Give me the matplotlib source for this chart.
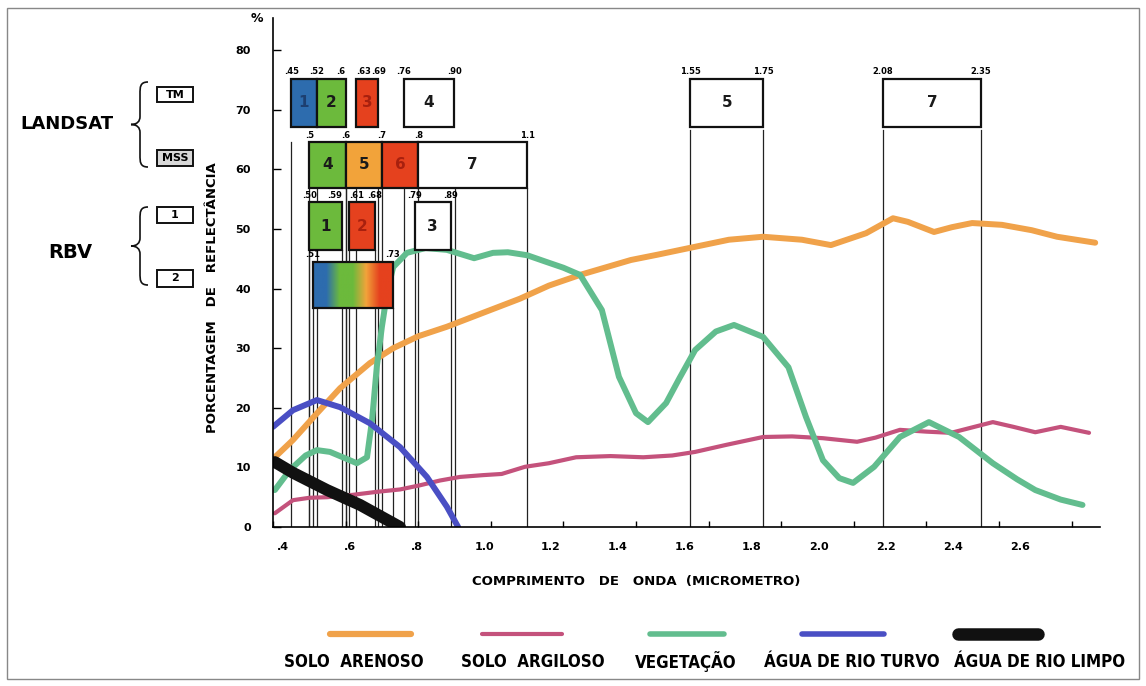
import numpy as np
import matplotlib
matplotlib.use('Agg')
import matplotlib.pyplot as plt
from matplotlib.patches import Rectangle, PathPatch
from matplotlib.path import Path
from matplotlib.lines import Line2D
from matplotlib.colors import LinearSegmentedColormap

# --- reflectance curves (wavelength um, reflectance %) ---
arenoso_x = [0.405, 0.455, 0.52, 0.585, 0.667, 0.731, 0.80, 0.879, 0.96, 1.08, 1.16, 1.246,
             1.386, 1.46, 1.546, 1.656, 1.75, 1.857, 1.937, 2.034, 2.108, 2.149, 2.221,
             2.27, 2.326, 2.408, 2.49, 2.56, 2.665]
arenoso_y = [11.7, 14.6, 19.0, 23.3, 27.5, 30.0, 32.0, 33.6, 35.5, 38.3, 40.5, 42.3,
             44.8, 45.7, 46.8, 48.2, 48.7, 48.2, 47.3, 49.3, 51.8, 51.2, 49.5,
             50.3, 51.0, 50.7, 49.8, 48.7, 47.7]

argiloso_x = [0.405, 0.455, 0.50, 0.549, 0.62, 0.686, 0.75, 0.805, 0.86, 0.915, 0.978, 1.03,
              1.094, 1.16, 1.235, 1.33, 1.42, 1.50, 1.563, 1.65, 1.75, 1.83, 1.915, 2.009,
              2.06, 2.127, 2.20, 2.268, 2.383, 2.44, 2.50, 2.57, 2.648]
argiloso_y = [2.3, 4.5, 4.9, 5.0, 5.4, 5.9, 6.3, 7.0, 7.8, 8.4, 8.7, 8.9,
              10.1, 10.7, 11.7, 11.9, 11.7, 12.0, 12.6, 13.8, 15.1, 15.2, 14.9, 14.3,
              15.0, 16.3, 16.0, 15.8, 17.6, 16.8, 15.9, 16.8, 15.8]

veg_x = [0.405, 0.447, 0.49, 0.521, 0.557, 0.60, 0.631, 0.659, 0.673, 0.686, 0.70, 0.715,
         0.731, 0.769, 0.82, 0.879, 0.954, 1.006, 1.047, 1.10, 1.152, 1.20, 1.246, 1.306,
         1.353, 1.40, 1.433, 1.483, 1.52, 1.563, 1.62, 1.67, 1.75, 1.82, 1.868, 1.915,
         1.96, 1.998, 2.056, 2.127, 2.207, 2.29, 2.383, 2.45, 2.50, 2.57, 2.63]
veg_y = [6.2, 9.6, 12.0, 12.9, 12.6, 11.5, 10.7, 11.7, 18.0, 26.9, 33.6, 39.5,
         43.6, 46.0, 46.8, 46.5, 45.1, 46.0, 46.1, 45.6, 44.5, 43.5, 42.3, 36.4,
         25.2, 19.1, 17.6, 20.8, 25.0, 29.7, 32.8, 33.9, 31.9, 26.8, 18.5, 11.2,
         8.2, 7.4, 10.1, 15.1, 17.6, 15.1, 10.7, 8.0, 6.2, 4.6, 3.7]

turvo_x = [0.40, 0.455, 0.521, 0.585, 0.667, 0.75, 0.824, 0.879, 0.91]
turvo_y = [16.8, 19.6, 21.3, 20.1, 17.4, 13.4, 8.4, 3.4, 0.0]

limpo_x = [0.405, 0.455, 0.549, 0.64, 0.75]
limpo_y = [10.9, 9.1, 6.2, 3.7, 0.0]

legend_names = ['SOLO  ARENOSO', 'SOLO  ARGILOSO', 'VEGETAÇÃO',
                'ÁGUA DE RIO TURVO', 'ÁGUA DE RIO LIMPO']

# --- sensor bands ---
tm_names = ['1', '2', '3', '4', '5', '7']
tm_lo = [0.45, 0.52, 0.63, 0.76, 1.55, 2.08]
tm_hi = [0.52, 0.60, 0.69, 0.90, 1.75, 2.35]
tm_edges = [0.45, 0.52, 0.60, 0.63, 0.69, 0.76, 0.90, 1.55, 1.75, 2.08, 2.35]
tm_edge_txt = ['.45', '.52', '.6', '.63', '.69', '.76', '.90', '1.55', '1.75', '2.08', '2.35']

mss_names = ['4', '5', '6', '7']
mss_lo = [0.5, 0.6, 0.7, 0.8]
mss_hi = [0.6, 0.7, 0.8, 1.1]
mss_edges = [0.5, 0.6, 0.7, 0.8, 1.1]
mss_edge_txt = ['.5', '.6', '.7', '.8', '1.1']

rbv1_names = ['1', '2', '3']
rbv1_lo = [0.50, 0.61, 0.79]
rbv1_hi = [0.59, 0.68, 0.89]
rbv1_edges = [0.50, 0.59, 0.61, 0.68, 0.79, 0.89]
rbv1_edge_txt = ['.50', '.59', '.61', '.68', '.79', '.89']

rbv2_lo, rbv2_hi = 0.51, 0.73
rbv2_edges = [0.51, 0.73]
rbv2_edge_txt = ['.51', '.73']

x_ticks = [0.4, 0.6, 0.8, 1.0, 1.2, 1.4, 1.6, 1.8, 2.0, 2.2, 2.4, 2.6]
x_ticklabels = ['.4', '.6', '.8', '1.0', '1.2', '1.4', '1.6', '1.8', '2.0', '2.2', '2.4', '2.6']
y_ticks = [0, 10, 20, 30, 40, 50, 60, 70, 80]

BLUE, GREEN, ORANGE, RED = '#2d6cae', '#6cba3c', '#f2a33a', '#e5411e'
C_AREN, C_ARG, C_VEG, C_TUR, C_LIM = '#f0a24a', '#c4527c', '#62bd8e', '#4a4fc4', '#111111'

W, H = 1146, 686
def fx(px):
    return px / W
def fy(py):
    return 1 - py / H

BOLD = dict(fontweight='bold', family=['DejaVu Sans'])
NARROW = dict(fontweight='bold', family=['DejaVu Sans'], fontstretch='condensed')

fig = plt.figure(figsize=(W / 100, H / 100), dpi=100)
fig.patch.set_facecolor('white')
ax = fig.add_axes([fx(273), fy(527), (1100 - 273) / W, (527 - 18) / H])

# curves
ax.plot(arenoso_x, arenoso_y, color=C_AREN, lw=4.3, solid_capstyle='round', zorder=2)
ax.plot(argiloso_x, argiloso_y, color=C_ARG, lw=3.0, solid_capstyle='round', zorder=2)
ax.plot(veg_x, veg_y, color=C_VEG, lw=4.3, solid_capstyle='round', zorder=2)
ax.plot(turvo_x, turvo_y, color=C_TUR, lw=4.3, solid_capstyle='round', zorder=2)
ax.plot(limpo_x, limpo_y, color=C_LIM, lw=8.5, solid_capstyle='round', zorder=2)

def num_color(c):
    if c == BLUE:
        return '#1d3f70'
    if c == RED:
        return '#a8200e'
    return '#1a1a1a'

def band_row(names, lo, hi, colors, ybot, ytop):
    for n, a, b, c in zip(names, lo, hi, colors):
        ax.add_patch(Rectangle((a, ybot), b - a, ytop - ybot, facecolor=c,
                               edgecolor='#111111', lw=1.6, zorder=4))
        ax.text((a + b) / 2, (ybot + ytop) / 2, n, ha='center', va='center',
                fontsize=11, color=num_color(c), zorder=5, **BOLD)

def edge_labels(edges, txt, ytop):
    for i, (e, t) in enumerate(zip(edges, txt)):
        ha = 'center'
        if i + 1 < len(edges) and edges[i + 1] - e < 0.035:
            ha = 'right'
        elif i > 0 and e - edges[i - 1] < 0.035:
            ha = 'left'
        ax.text(e, ytop + 0.4, t, ha=ha, va='bottom', fontsize=6,
                zorder=5, **BOLD)

def drop_lines(edges, ystart):
    for e in edges:
        ax.plot([e, e], [0, ystart], color='#222222', lw=0.9, zorder=1)

TM_B, TM_T = 67.1, 75.2
MSS_B, MSS_T = 56.9, 64.6
R1_B, R1_T = 46.5, 54.5
R2_B, R2_T = 36.7, 44.5

band_row(tm_names, tm_lo, tm_hi, [BLUE, GREEN, RED, 'white', 'white', 'white'], TM_B, TM_T)
band_row(mss_names, mss_lo, mss_hi, [GREEN, ORANGE, RED, 'white'], MSS_B, MSS_T)
band_row(rbv1_names, rbv1_lo, rbv1_hi, [GREEN, RED, 'white'], R1_B, R1_T)

grad = LinearSegmentedColormap.from_list('rbv', [BLUE, BLUE, GREEN, GREEN, ORANGE, RED, RED])
ax.imshow(np.linspace(0, 1, 256)[None, :], extent=[rbv2_lo, rbv2_hi, R2_B, R2_T],
          cmap=grad, aspect='auto', zorder=4)
ax.add_patch(Rectangle((rbv2_lo, R2_B), rbv2_hi - rbv2_lo, R2_T - R2_B, facecolor='none',
                       edgecolor='#111111', lw=1.6, zorder=5))

edge_labels(tm_edges, tm_edge_txt, TM_T)
edge_labels(mss_edges, mss_edge_txt, MSS_T)
edge_labels(rbv1_edges, rbv1_edge_txt, R1_T)
edge_labels(rbv2_edges, rbv2_edge_txt, R2_T)

drop_lines([e for e in tm_edges if e <= 1.1], MSS_T)
drop_lines([e for e in tm_edges if e > 1.1], TM_B - 0.5)
drop_lines(mss_edges, MSS_B)
drop_lines(rbv1_edges, R1_B)
drop_lines(rbv2_edges, R2_B)

# axes
ax.set_xlim(0.4, 0.4 + (1100 - 273) / 363)
ax.set_ylim(0, (527 - 18) / 5.96)
ax.spines['top'].set_visible(False)
ax.spines['right'].set_visible(False)
ax.spines['left'].set_linewidth(1.2)
ax.spines['bottom'].set_linewidth(1.2)
ax.set_xticks(x_ticks)
ax.tick_params(axis='x', direction='in', length=4, width=1, labelbottom=False)
ax.set_yticks(y_ticks)
ax.set_yticklabels([str(v) for v in y_ticks])
ax.tick_params(axis='y', direction='in', length=6, width=1, pad=16, labelsize=8)
for t in ax.get_yticklabels():
    t.set_fontweight('bold')

# the hand lettered tick labels drift left of their tick marks
def to_label(x):
    return 0.4 + (363 * (np.asarray(x) - 0.4) - 10) / 335
def from_label(v):
    return 0.4 + (335 * (np.asarray(v) - 0.4) + 10) / 363
sec = ax.secondary_xaxis('bottom', functions=(to_label, from_label))
sec.set_xticks(x_ticks, x_ticklabels)
sec.tick_params(length=0, pad=11, labelsize=8)
sec.spines['bottom'].set_visible(False)
for t in sec.get_xticklabels():
    t.set_fontweight('bold')

fig.text(fx(257), fy(18), '%', ha='center', va='center', fontsize=9, **BOLD)
fig.text(fx(636), fy(581), 'COMPRIMENTO   DE   ONDA  (MICROMETRO)', ha='center', va='center',
         fontsize=9.5, **BOLD)
fig.text(fx(213), fy(298), 'PORCENTAGEM   DE   REFLECTÂNCIA', ha='center', va='center',
         rotation=90, fontsize=9.5, **BOLD)

# left side: sensors
fig.text(fx(67), fy(124), 'LANDSAT', ha='center', va='center', fontsize=13, **BOLD)
fig.text(fx(70), fy(253), 'RBV', ha='center', va='center', fontsize=14, **BOLD)
sensor_boxes = [('TM', 87, 102, '#ffffff'), ('MSS', 150, 166, '#d8d8d8'),
                ('1', 207, 223, '#ffffff'), ('2', 270, 287, '#ffffff')]
for label, top, bot, fc in sensor_boxes:
    fig.add_artist(Rectangle((fx(157), fy(bot)), fx(193) - fx(157), fy(top) - fy(bot),
                             facecolor=fc, edgecolor='#111111', lw=1.4,
                             transform=fig.transFigure))
    fig.text(fx(175), fy((top + bot) / 2), label, ha='center', va='center',
             fontsize=8, **BOLD)

def brace(top, bot, xr=148, xm=140, xt=131):
    mid = (top + bot) / 2
    pts = [(xr, top), (xm, top), (xm, top + 5), (xm, top + 12),
           (xm, mid - 8),
           (xm, mid - 3), (xm - 3, mid), (xt, mid),
           (xm - 3, mid), (xm, mid + 3), (xm, mid + 8),
           (xm, bot - 12),
           (xm, bot - 5), (xm, bot), (xr, bot)]
    codes = [Path.MOVETO, Path.CURVE4, Path.CURVE4, Path.CURVE4, Path.LINETO,
             Path.CURVE4, Path.CURVE4, Path.CURVE4, Path.CURVE4, Path.CURVE4, Path.CURVE4,
             Path.LINETO, Path.CURVE4, Path.CURVE4, Path.CURVE4]
    verts = [(fx(a), fy(b)) for a, b in pts]
    fig.add_artist(PathPatch(Path(verts, codes), facecolor='none', edgecolor='#111111',
                             lw=1.2, transform=fig.transFigure))

brace(82, 167)
brace(207, 285)

# legend under the chart
leg_colors = [C_AREN, C_ARG, C_VEG, C_TUR, C_LIM]
leg_lw = [4.5, 3.0, 4.0, 4.0, 9.0]
leg_line = [(330, 411), (482, 562), (650, 724), (802, 884), (958, 1038)]
leg_text_x = [354, 533, 686, 852, 1040]
for name, c, lw, (a, b), tx in zip(legend_names, leg_colors, leg_lw, leg_line, leg_text_x):
    fig.add_artist(Line2D([fx(a), fx(b)], [fy(634), fy(634)], color=c, lw=lw,
                          solid_capstyle='round', transform=fig.transFigure))
    fig.text(fx(tx), fy(662), name, ha='center', va='center', fontsize=12.2, **NARROW)

# outer frame
fig.add_artist(Rectangle((fx(7), fy(679)), fx(1139) - fx(7), fy(8) - fy(679),
                         facecolor='none', edgecolor='#888888', lw=1.0,
                         transform=fig.transFigure))

fig.savefig('out.png', dpi=100)
